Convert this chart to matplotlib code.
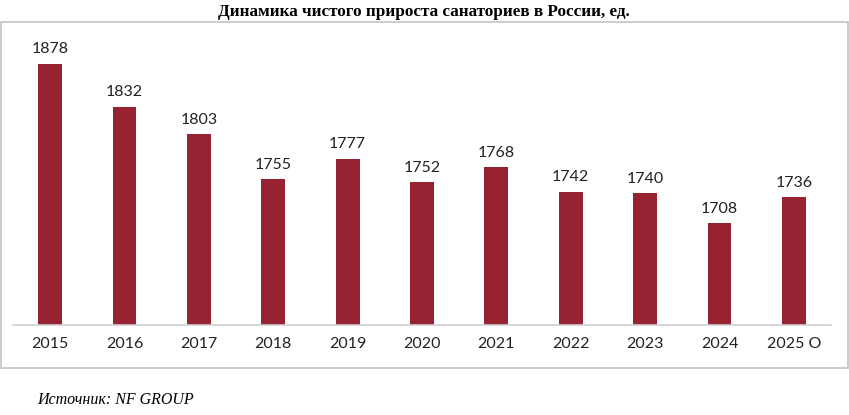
import matplotlib.pyplot as plt
from matplotlib.patches import Rectangle

years = ['2015', '2016', '2017', '2018', '2019', '2020', '2021', '2022', '2023', '2024', '2025 О']
values = [1878, 1832, 1803, 1755, 1777, 1752, 1768, 1742, 1740, 1708, 1736]

W, H = 849, 415
fig = plt.figure(figsize=(W / 100, H / 100), dpi=100)

# gray frame around the chart block
fig.patches.append(Rectangle((0.5 / W, 1 - 368 / H), 847.5 / W, 346 / H,
                             transform=fig.transFigure, fill=False,
                             edgecolor='#c4c4c4', linewidth=1.2))

ax = fig.add_axes([13 / W, 1 - 325 / H, 818 / W, 282 / H])
x = range(len(years))
ax.bar(x, values, width=0.32, color='#962232')
for xi, v in zip(x, values):
    ax.text(xi, v + 8, str(v), ha='center', va='bottom', fontsize=11.5,
            family='Lato', color='#222222', clip_on=False)

ax.set_xlim(-0.5, 10.5)
ax.set_ylim(1600, 1900)
for s in ['top', 'right', 'left']:
    ax.spines[s].set_visible(False)
ax.spines['bottom'].set_color('#d0d0d0')
ax.spines['bottom'].set_linewidth(1.2)
ax.set_yticks([])
ax.set_xticks(list(x))
ax.set_xticklabels(years, fontsize=11.5, family='Lato', color='#222222')
ax.tick_params(axis='x', length=0, pad=9)

fig.text(424 / W, 1 - 12 / H, 'Динамика чистого прироста санаториев в России, ед.',
         ha='center', va='center', fontsize=12.3, fontweight='bold',
         family='Liberation Serif')
fig.text(37 / W, 1 - 400 / H, 'Источник: NF GROUP', ha='left', va='center',
         fontsize=11.5, style='italic', family='Liberation Serif')

fig.savefig('out.png', dpi=100)
